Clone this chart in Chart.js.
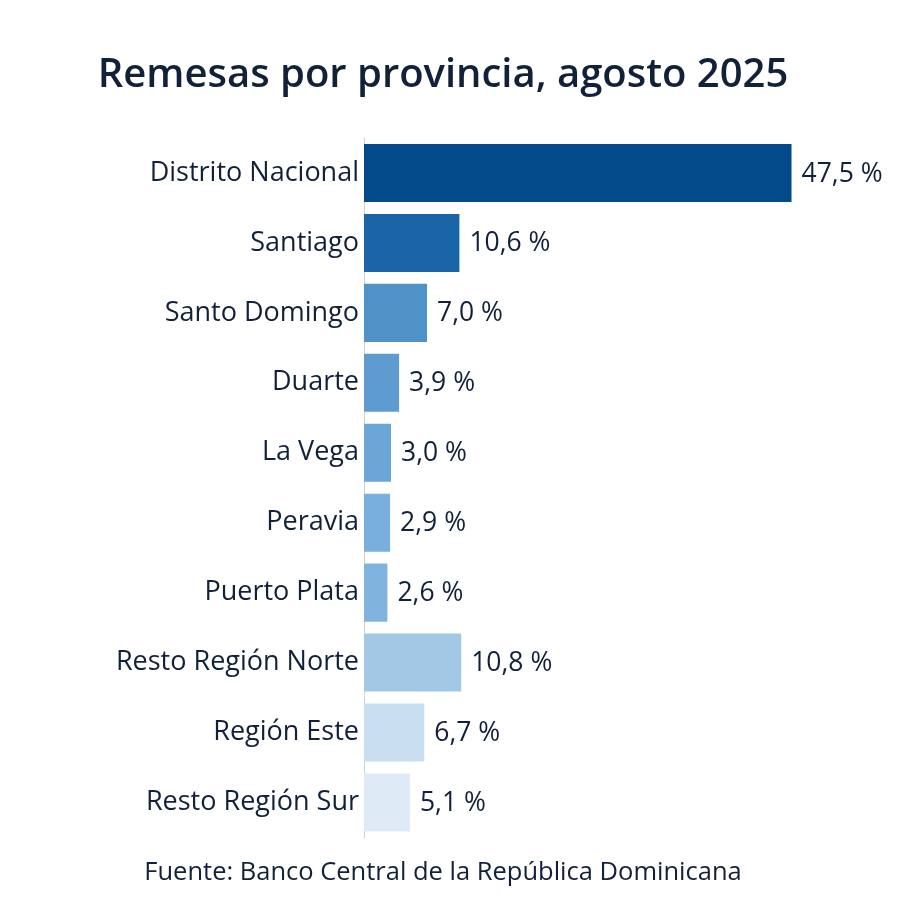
<!DOCTYPE html>
<html lang="es">
<head>
<meta charset="utf-8">
<title>Remesas por provincia, agosto 2025</title>
<script src="https://cdn.jsdelivr.net/npm/chart.js@4/dist/chart.umd.min.js"></script>
<style>
    html, body { margin: 0; padding: 0; background: #ffffff; }
    #wrap { width: 900px; height: 900px; }
</style>
</head>
<body>
<div id="wrap"><canvas id="grafico"></canvas></div>
<script>
// Datos del gráfico (porcentaje del total de remesas)
const provincias = [
    "Distrito Nacional", "Santiago", "Santo Domingo", "Duarte", "La Vega",
    "Peravia", "Puerto Plata", "Resto Región Norte", "Región Este", "Resto Región Sur",
];
const porcentajes = [47.5, 10.6, 7.0, 3.9, 3.0, 2.9, 2.6, 10.8, 6.7, 5.1];
const colores = [
    "#034a8a", "#1a65a8", "#4f92c8", "#5e9bd0", "#6ba6d7",
    "#78afdc", "#80b4df", "#a2c8e6", "#c8dff2", "#deebf7",
];

const TEXTO = "#12213a";
const FUENTE = "'Open Sans', 'Noto Sans', sans-serif";

// Etiqueta de valor a la derecha de cada barra
const etiquetasValor = {
    id: "etiquetasValor",
    afterDatasetsDraw(chart) {
        const ctx = chart.ctx;
        const meta = chart.getDatasetMeta(0);
        ctx.save();
        ctx.font = `26.5px ${FUENTE}`;
        ctx.fillStyle = TEXTO;
        ctx.textAlign = "left";
        ctx.textBaseline = "middle";
        meta.data.forEach((bar, i) => {
            const txt = porcentajes[i].toFixed(1).replace(".", ",") + " %";
            ctx.fillText(txt, bar.x + 10, bar.y + 1);
        });
        ctx.restore();
    },
};

new Chart(document.getElementById("grafico"), {
    type: "bar",
    data: {
        labels: provincias,
        datasets: [{
            data: porcentajes,
            backgroundColor: colores,
            borderWidth: 0,
            categoryPercentage: 1,
            barPercentage: 0.83,
        }],
    },
    options: {
        indexAxis: "y",
        responsive: true,
        maintainAspectRatio: false,
        animation: false,
        layout: { padding: { left: 0, right: 14, top: 0, bottom: 0 } },
        scales: {
            x: { display: false, min: 0, max: 58 },
            y: {
                grid: { display: false, drawTicks: false },
                border: { display: true, color: "#c9d1db", width: 1 },
                ticks: {
                    color: TEXTO,
                    padding: 5,
                    font: { family: FUENTE, size: 27 },
                },
                afterFit: (s) => { s.width = 364; },
            },
        },
        plugins: {
            legend: { display: false },
            tooltip: { enabled: false },
            title: {
                display: true,
                text: "Remesas por provincia, agosto 2025",
                color: TEXTO,
                font: { family: FUENTE, size: 40, weight: "600" },
                padding: { top: 52, bottom: 38 },
            },
            subtitle: {
                display: true,
                position: "bottom",
                text: "Fuente: Banco Central de la República Dominicana",
                color: TEXTO,
                font: { family: FUENTE, size: 25.5 },
                padding: { top: 20, bottom: 12 },
            },
        },
    },
    plugins: [etiquetasValor],
});
</script>
</body>
</html>
